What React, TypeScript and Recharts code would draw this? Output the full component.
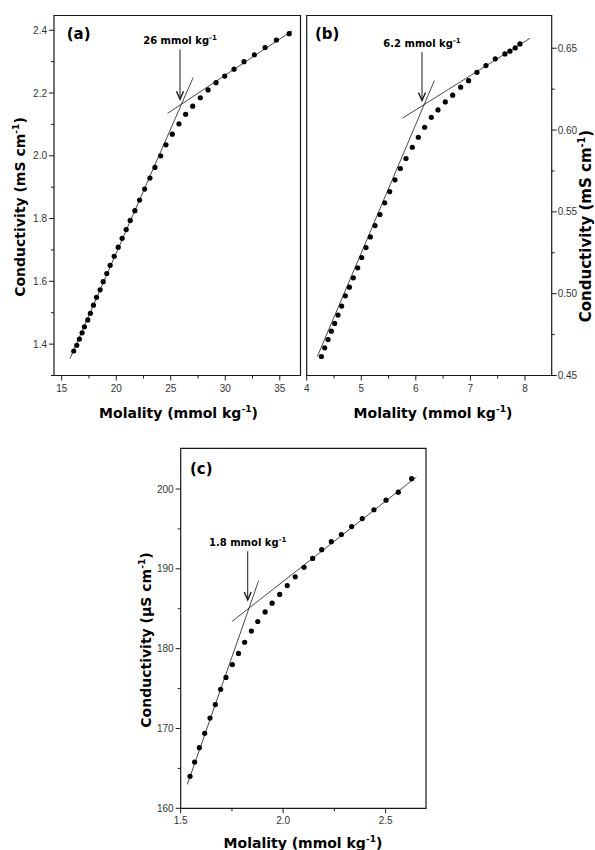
import React from "react"
import { ScatterChart, Scatter, XAxis, YAxis, ReferenceLine, ReferenceArea } from "recharts"

// ---- panel (a) ----
const molalityA = [16.1, 16.38, 16.62, 16.87, 17.08, 17.39, 17.63, 17.91, 18.19, 18.52, 18.8, 19.13, 19.44, 19.81, 20.18, 20.54, 20.91, 21.28, 21.71, 22.14, 22.6, 23.09, 23.55, 24.07, 24.56, 25.14, 25.75, 26.36, 27.01, 27.71, 28.42, 29.15, 29.95, 30.8, 31.72, 32.67, 33.65, 34.69, 35.86]
const conductivityA = [1.378, 1.396, 1.416, 1.436, 1.455, 1.477, 1.498, 1.524, 1.549, 1.573, 1.599, 1.625, 1.651, 1.68, 1.709, 1.737, 1.765, 1.794, 1.825, 1.859, 1.894, 1.929, 1.963, 2.0, 2.035, 2.069, 2.102, 2.132, 2.158, 2.185, 2.21, 2.233, 2.254, 2.276, 2.3, 2.322, 2.345, 2.369, 2.389]
const fitA = [
  [{ x: 15.76, y: 1.354 }, { x: 27.05, y: 2.249 }],
  [{ x: 24.7, y: 2.135 }, { x: 36.13, y: 2.398 }],
]
const arrowA = [{ x: 25.85, y: 2.339 }, { x: 25.85, y: 2.18 }]
const xTicksA = [15, 17.5, 20, 22.5, 25, 27.5, 30, 32.5, 35]
const yTicksA = [1.3, 1.4, 1.5, 1.6, 1.7, 1.8, 1.9, 2.0, 2.1, 2.2, 2.3, 2.4]
const xMajorA = [15, 20, 25, 30, 35]
const yMajorA = [1.4, 1.6, 1.8, 2.0, 2.2, 2.4]

// ---- panel (b) ----
const molalityB = [4.269, 4.33, 4.391, 4.452, 4.513, 4.574, 4.641, 4.708, 4.782, 4.855, 4.934, 5.008, 5.087, 5.166, 5.252, 5.343, 5.429, 5.521, 5.618, 5.716, 5.82, 5.936, 6.046, 6.162, 6.284, 6.406, 6.54, 6.675, 6.821, 6.967, 7.12, 7.285, 7.456, 7.633, 7.725, 7.822, 7.908]
const conductivityB = [0.4616, 0.4669, 0.472, 0.4771, 0.4818, 0.4869, 0.4924, 0.4987, 0.504, 0.5097, 0.5158, 0.5221, 0.5282, 0.5347, 0.5416, 0.5484, 0.5555, 0.5624, 0.5696, 0.5765, 0.5826, 0.5895, 0.5956, 0.6017, 0.6078, 0.6123, 0.6172, 0.6213, 0.6262, 0.6302, 0.6353, 0.6394, 0.6435, 0.6465, 0.6482, 0.6502, 0.6526]
const fitB = [
  [{ x: 4.195, y: 0.4616 }, { x: 6.339, y: 0.6302 }],
  [{ x: 5.753, y: 0.6072 }, { x: 8.092, y: 0.6561 }],
]
const arrowB = [{ x: 6.113, y: 0.6476 }, { x: 6.113, y: 0.618 }]
const xTicksB = [4, 4.5, 5, 5.5, 6, 6.5, 7, 7.5, 8]
const yTicksB = [0.45, 0.475, 0.5, 0.525, 0.55, 0.575, 0.6, 0.625, 0.65]
const xMajorB = [4, 5, 6, 7, 8]
const yMajorB = [0.45, 0.5, 0.55, 0.6, 0.65]

// ---- panel (c) ----
const molalityC = [1.5455, 1.568, 1.591, 1.617, 1.643, 1.669, 1.695, 1.721, 1.752, 1.782, 1.812, 1.845, 1.876, 1.912, 1.946, 1.983, 2.02, 2.059, 2.102, 2.144, 2.188, 2.235, 2.284, 2.334, 2.386, 2.443, 2.502, 2.562, 2.627]
const conductivityC = [164.0, 165.8, 167.6, 169.4, 171.3, 173.0, 174.9, 176.4, 178.0, 179.4, 180.8, 182.2, 183.4, 184.6, 185.7, 186.8, 187.9, 189.0, 190.2, 191.3, 192.4, 193.4, 194.3, 195.3, 196.3, 197.4, 198.6, 199.6, 201.3]
const fitC = [
  [{ x: 1.5325, y: 163.0 }, { x: 1.88, y: 188.5 }],
  [{ x: 1.75, y: 183.4 }, { x: 2.65, y: 201.5 }],
]
const arrowC = [{ x: 1.827, y: 192.2 }, { x: 1.827, y: 186.1 }]
const xTicksC = [1.5, 1.75, 2.0, 2.25, 2.5]
const yTicksC = [160, 165, 170, 175, 180, 185, 190, 195, 200]
const xMajorC = [1.5, 2.0, 2.5]
const yMajorC = [160, 170, 180, 190, 200]

const TICK_FONT = "'Liberation Sans', Arial, sans-serif"
const BOLD_FONT = "'DejaVu Sans', Verdana, sans-serif"
const INK = "#1a1a1a"

const isMajor = (v: number, majors: number[]) => majors.some((m) => Math.abs(m - v) < 1e-6)

function makeTick(side: "bottom" | "left" | "right", majors: number[], fmt: (v: number) => string) {
  return (props: any) => {
    const { x, y, payload } = props
    const v = payload.value
    const major = isMajor(v, majors)
    const len = major ? 5 : 3
    if (side === "bottom") {
      return (
        <g>
          <line x1={x} y1={y} x2={x} y2={y + len} stroke={INK} strokeWidth={1} />
          {major && (
            <text x={x} y={y + 16} textAnchor="middle" fontSize={10} fontFamily={TICK_FONT} fill="#333">
              {fmt(v)}
            </text>
          )}
        </g>
      )
    }
    if (side === "left") {
      return (
        <g>
          <line x1={x} y1={y} x2={x - len} y2={y} stroke={INK} strokeWidth={1} />
          {major && (
            <text x={x - 7} y={y + 3.5} textAnchor="end" fontSize={10} fontFamily={TICK_FONT} fill="#333">
              {fmt(v)}
            </text>
          )}
        </g>
      )
    }
    return (
      <g>
        <line x1={x} y1={y} x2={x + len} y2={y} stroke={INK} strokeWidth={1} />
        {major && (
          <text x={x + 6} y={y + 3.5} textAnchor="start" fontSize={10} fontFamily={TICK_FONT} fill="#333">
            {fmt(v)}
          </text>
        )}
      </g>
    )
  }
}

const dot = (p: any) => <circle cx={p.cx} cy={p.cy} r={2.6} fill="#000" />

function arrowShape(value: string) {
  return (p: any) => {
    const { x1, y1, x2, y2 } = p
    return (
      <g>
        <line x1={x1} y1={y1} x2={x2} y2={y2} stroke={INK} strokeWidth={1} />
        <polyline points={`${x2 - 3.5},${y2 - 8} ${x2},${y2} ${x2 + 3.5},${y2 - 8}`} fill="none" stroke={INK} strokeWidth={1.4} />
        <text x={x1} y={y1 - 5} textAnchor="middle" fontSize={10} fontWeight="bold" fontFamily={BOLD_FONT} fill="#000">
          {value}
          <tspan fontSize={7} dy={-4}>-1</tspan>
        </text>
      </g>
    )
  }
}

interface PanelProps {
  left: number
  top: number
  width: number
  height: number
  margin: { top: number; right: number; bottom: number; left: number }
  xs: number[]
  ys: number[]
  fits: { x: number; y: number }[][]
  arrow: { x: number; y: number }[]
  arrowLabel: string
  xDomain: [number, number]
  yDomain: [number, number]
  xTicks: number[]
  yTicks: number[]
  xMajor: number[]
  yMajor: number[]
  xFmt: (v: number) => string
  yFmt: (v: number) => string
  ySide: "left" | "right"
}

// axis boxes: x axis 30 tall, y axis 40 wide; margins are set so the plot frame lands where the reference has it
function Panel(p: PanelProps) {
  const data = p.xs.map((x, i) => ({ x, y: p.ys[i] }))
  return (
    <div style={{ position: "absolute", left: p.left, top: p.top }}>
      <ScatterChart width={p.width} height={p.height} margin={p.margin}>
        <XAxis
          type="number"
          dataKey="x"
          domain={p.xDomain}
          ticks={p.xTicks}
          interval={0}
          allowDataOverflow
          height={30}
          tickSize={0}
          tickMargin={0}
          axisLine={false}
          tickLine={false}
          tick={makeTick("bottom", p.xMajor, p.xFmt)}
        />
        <YAxis
          type="number"
          dataKey="y"
          orientation={p.ySide}
          domain={p.yDomain}
          ticks={p.yTicks}
          interval={0}
          allowDataOverflow
          width={40}
          tickSize={0}
          tickMargin={0}
          axisLine={false}
          tickLine={false}
          tick={makeTick(p.ySide, p.yMajor, p.yFmt)}
        />
        <ReferenceArea
          x1={p.xDomain[0]}
          x2={p.xDomain[1]}
          y1={p.yDomain[0]}
          y2={p.yDomain[1]}
          fill="none"
          fillOpacity={0}
          stroke={INK}
          strokeWidth={1.2}
          ifOverflow="visible"
        />
        {p.fits.map((seg, i) => (
          <ReferenceLine key={`fit-${i}`} segment={seg} stroke={INK} strokeWidth={0.8} ifOverflow="visible" />
        ))}
        <ReferenceLine segment={p.arrow} ifOverflow="visible" shape={arrowShape(p.arrowLabel)} />
        <Scatter data={data} shape={dot} isAnimationActive={false} />
      </ScatterChart>
    </div>
  )
}

function Title({ x, y, text, rotate, size = 14 }: { x: number; y: number; text: string; rotate?: boolean; size?: number }) {
  return (
    <text
      x={x}
      y={y}
      textAnchor="middle"
      fontSize={size}
      fontWeight="bold"
      fontFamily={BOLD_FONT}
      fill="#000"
      transform={rotate ? `rotate(-90 ${x} ${y})` : undefined}
    >
      {text}
      <tspan fontSize={size * 0.65} dy={-size * 0.4}>-1</tspan>
      <tspan dy={size * 0.4}>)</tspan>
    </text>
  )
}

export default function App() {
  return (
    <div style={{ position: "absolute", left: 0, top: 0, width: 595, height: 850, background: "#fff", overflow: "hidden" }}>
      <Panel
        left={0}
        top={0}
        width={310}
        height={430}
        margin={{ top: 15.5, right: 9.5, bottom: 24.5, left: 14 }}
        xs={molalityA}
        ys={conductivityA}
        fits={fitA}
        arrow={arrowA}
        arrowLabel="26 mmol kg"
        xDomain={[14.29, 36.9]}
        yDomain={[1.3, 2.447]}
        xTicks={xTicksA}
        yTicks={yTicksA}
        xMajor={xMajorA}
        yMajor={yMajorA}
        xFmt={(v) => String(v)}
        yFmt={(v) => v.toFixed(1)}
        ySide="left"
      />
      <Panel
        left={300}
        top={0}
        width={295}
        height={430}
        margin={{ top: 15.5, right: 3.3, bottom: 24.5, left: 6.7 }}
        xs={molalityB}
        ys={conductivityB}
        fits={fitB}
        arrow={arrowB}
        arrowLabel="6.2 mmol kg"
        xDomain={[4, 8.49]}
        yDomain={[0.45, 0.67]}
        xTicks={xTicksB}
        yTicks={yTicksB}
        xMajor={xMajorB}
        yMajor={yMajorB}
        xFmt={(v) => String(v)}
        yFmt={(v) => v.toFixed(2)}
        ySide="right"
      />
      <Panel
        left={130}
        top={430}
        width={320}
        height={420}
        margin={{ top: 18.3, right: 24, bottom: 11.7, left: 10.7 }}
        xs={molalityC}
        ys={conductivityC}
        fits={fitC}
        arrow={arrowC}
        arrowLabel="1.8 mmol kg"
        xDomain={[1.5, 2.697]}
        yDomain={[160, 205.1]}
        xTicks={xTicksC}
        yTicks={yTicksC}
        xMajor={xMajorC}
        yMajor={yMajorC}
        xFmt={(v) => v.toFixed(1)}
        yFmt={(v) => String(v)}
        ySide="left"
      />
      <svg width={595} height={850} style={{ position: "absolute", left: 0, top: 0, pointerEvents: "none" }}>
        <text x={66.7} y={38.5} fontSize={15} fontWeight="bold" fontFamily={BOLD_FONT} fill="#000">(a)</text>
        <text x={315} y={38.5} fontSize={15} fontWeight="bold" fontFamily={BOLD_FONT} fill="#000">(b)</text>
        <text x={190} y={473.5} fontSize={15} fontWeight="bold" fontFamily={BOLD_FONT} fill="#000">(c)</text>
        <Title x={25} y={207} text="Conductivity (mS cm" rotate />
        <Title x={178.5} y={418} text="Molality (mmol kg" />
        <Title x={433} y={418} text="Molality (mmol kg" />
        <Title x={591} y={226} text="Conductivity (mS cm" rotate size={15} />
        <Title x={151} y={640} text="Conductivity (µS cm" rotate />
        <Title x={303} y={848} text="Molality (mmol kg" />
      </svg>
    </div>
  )
}
